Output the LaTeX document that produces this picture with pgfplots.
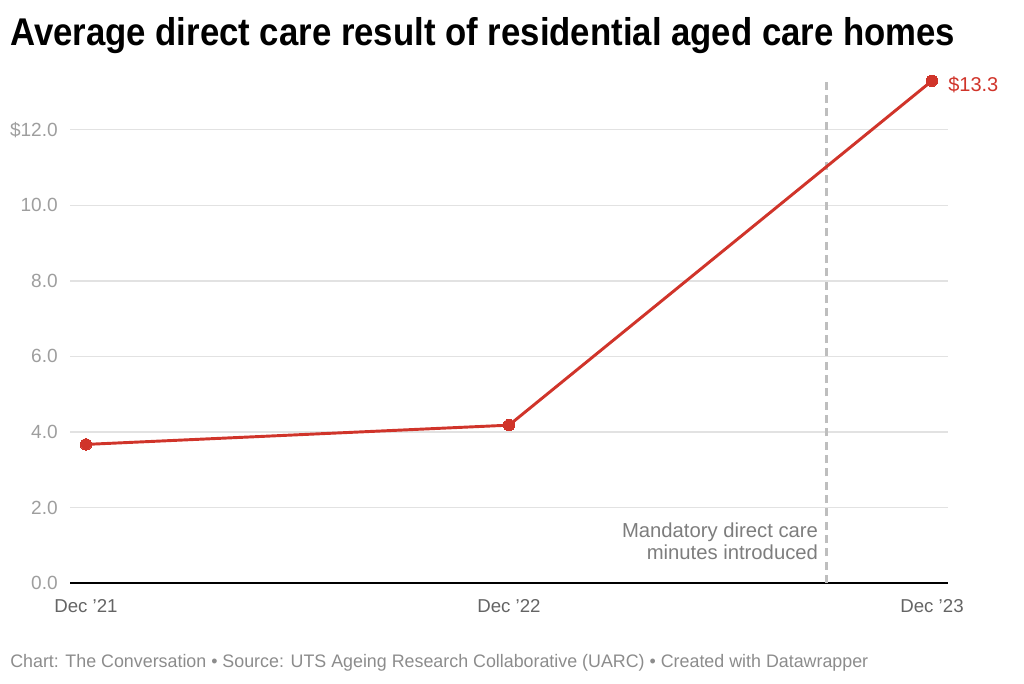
\documentclass[border=0pt]{standalone}
\usepackage{pgfplots}
\pgfplotsset{compat=1.18}
\usepackage{fontspec}
\setmainfont{Liberation Sans}
\definecolor{linered}{RGB}{208,52,42}
\definecolor{ticky}{RGB}{158,158,158}
\definecolor{tickx}{RGB}{100,100,100}
\definecolor{annot}{RGB}{125,125,125}
\definecolor{foot}{RGB}{140,140,140}
\definecolor{gridc}{RGB}{226,226,226}
\definecolor{dashc}{RGB}{190,190,190}
\begin{document}
\begin{tikzpicture}[x=0.75pt,y=0.75pt]
\path[use as bounding box] (0,0) rectangle (1024,683);
\node[anchor=base west, inner sep=0] at (10,637) {\resizebox{708.75pt}{\height}{\fontsize{29pt}{34pt}\selectfont\bfseries Average direct care result of residential aged care homes}};
\node[anchor=base west, inner sep=0, text=foot] at (10,16) {\resizebox{643.5pt}{\height}{\fontsize{13.6pt}{16pt}\selectfont Chart: The Conversation • Source: UTS Ageing Research Collaborative (UARC) • Created with Datawrapper}};
\begin{axis}[
  at={(52.5pt,75pt)}, anchor=south west,
  scale only axis, width=658.5pt, height=379.5pt,
  xmin=-0.0378, xmax=2.0378, ymin=0, ymax=13.4,
  clip=false,
  axis line style={draw=none},
  major tick length=0pt,
  xtick={0,1,2}, xticklabels={Dec ’21,Dec ’22,Dec ’23},
  ytick={0,2,4,6,8,10,12},
  yticklabels={0.0,2.0,4.0,6.0,8.0,10.0,\$12.0},
  ymajorgrids, grid style={gridc, line width=0.9pt},
  yticklabel style={anchor=east, inner sep=0pt, xshift=-9pt, text=ticky, font=\fontsize{14.3pt}{16pt}\selectfont},
  xticklabel style={anchor=north, inner sep=0pt, yshift=-12pt, text=tickx, font=\fontsize{14pt}{16pt}\selectfont},
]
\draw[black, line width=1.1pt] (rel axis cs:0,0) -- (rel axis cs:1,0);
\addplot[dashc, line width=2.2pt, dash pattern=on 6pt off 4pt] coordinates {(1.75,0) (1.75,13.4)};
\addplot[linered, line width=2.2pt, mark=*, mark size=4.3pt, mark options={solid, fill=linered, draw=linered, line width=0pt}] coordinates {(0,3.67) (1,4.18) (2,13.3)};
\node[anchor=west, inner sep=0, text=linered, font=\fontsize{15pt}{17pt}\selectfont, xshift=12pt, yshift=-3pt] at (axis cs:2,13.3) {\$13.3};
\node[anchor=base east, inner sep=0, text=annot, font=\fontsize{15.2pt}{17pt}\selectfont, xshift=-6pt] at (axis cs:1.75,1.216) {Mandatory direct care};
\node[anchor=base east, inner sep=0, text=annot, font=\fontsize{15.2pt}{17pt}\selectfont, xshift=-6pt] at (axis cs:1.75,0.634) {minutes introduced};
\end{axis}
\end{tikzpicture}
\end{document}
